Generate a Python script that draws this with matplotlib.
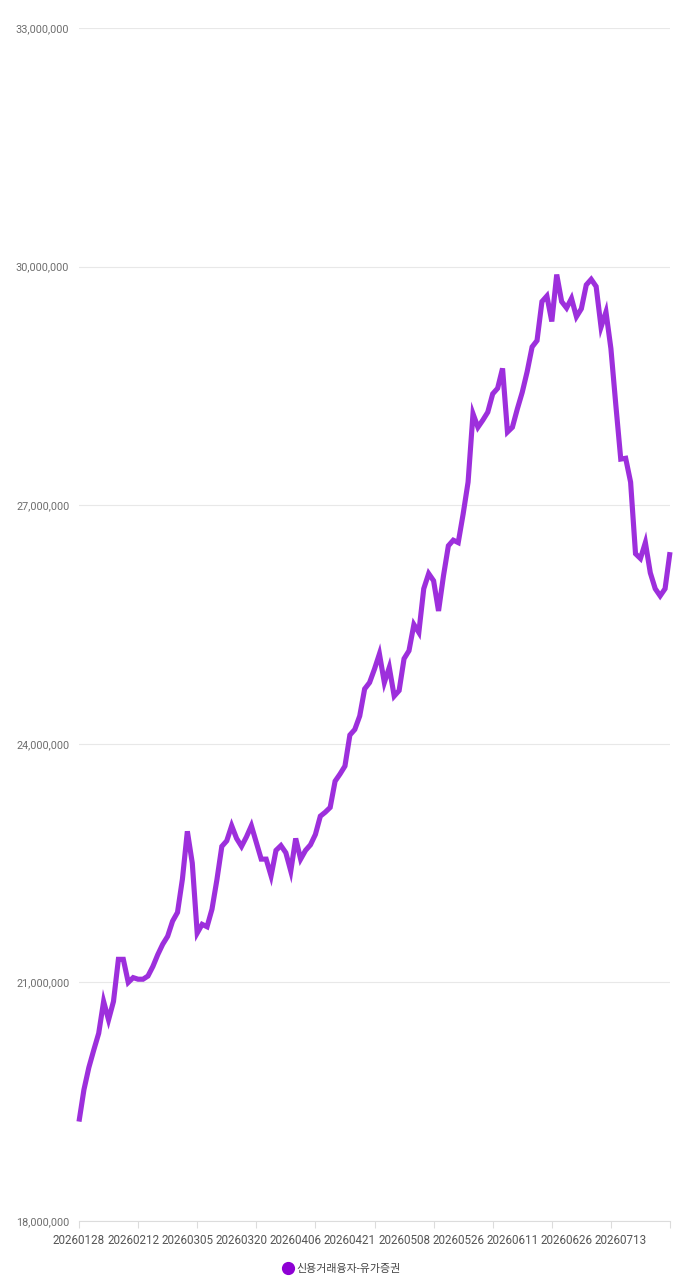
"""
신용거래융자(유가증권) 잔고 추이 라인 차트
"""

import matplotlib
matplotlib.use('Agg')
import matplotlib.pyplot as plt
from matplotlib.lines import Line2D
from matplotlib.ticker import FuncFormatter, FixedLocator

plt.rcParams['font.family'] = ['Roboto', 'Noto Sans CJK KR', 'DejaVu Sans']

# 거래일 (카테고리 축)
dates = [
    '20260128', '20260129', '20260130',
    '20260202', '20260203', '20260204', '20260205', '20260206',
    '20260209', '20260210', '20260211', '20260212', '20260213',
    '20260219', '20260220',
    '20260223', '20260224', '20260225', '20260226', '20260227',
    '20260303', '20260304', '20260305', '20260306',
    '20260309', '20260310', '20260311', '20260312', '20260313',
    '20260316', '20260317', '20260318', '20260319', '20260320',
    '20260323', '20260324', '20260325', '20260326', '20260327',
    '20260330', '20260331', '20260401', '20260402', '20260403',
    '20260406', '20260407', '20260408', '20260409', '20260410',
    '20260413', '20260414', '20260415', '20260416', '20260417',
    '20260420', '20260421', '20260422', '20260423', '20260424',
    '20260427', '20260428', '20260429', '20260430',
    '20260504', '20260506', '20260507', '20260508',
    '20260511', '20260512', '20260513', '20260514', '20260515',
    '20260518', '20260519', '20260520', '20260521', '20260522',
    '20260526', '20260527', '20260528', '20260529',
    '20260601', '20260602', '20260604', '20260605',
    '20260608', '20260609', '20260610', '20260611', '20260612',
    '20260615', '20260616', '20260617', '20260618', '20260619',
    '20260622', '20260623', '20260624', '20260625', '20260626',
    '20260629', '20260630', '20260701', '20260702', '20260703',
    '20260706', '20260707', '20260708', '20260709', '20260710',
    '20260713', '20260714', '20260715', '20260716', '20260717',
    '20260720', '20260721', '20260722', '20260723', '20260724',
    '20260727',
]

# 잔고 (차트 표시 값)
balance = [
    19250000, 19650000, 19930000, 20150000, 20360000, 20760000, 20530000, 20760000,
    21290000, 21290000, 21000000, 21060000, 21040000, 21040000, 21080000, 21200000,
    21350000, 21480000, 21580000, 21770000, 21880000, 22300000, 22900000, 22500000,
    21620000, 21730000, 21700000, 21920000, 22290000, 22710000, 22780000, 22970000,
    22810000, 22710000, 22830000, 22970000, 22760000, 22550000, 22550000, 22340000,
    22660000, 22720000, 22630000, 22400000, 22810000, 22550000, 22660000, 22730000,
    22860000, 23090000, 23140000, 23200000, 23530000, 23620000, 23720000, 24110000,
    24180000, 24350000, 24690000, 24770000, 24940000, 25130000, 24770000, 24960000,
    24600000, 24670000, 25070000, 25170000, 25500000, 25400000, 25950000, 26140000,
    26050000, 25670000, 26110000, 26490000, 26560000, 26530000, 26890000, 27290000,
    28150000, 27980000, 28070000, 28170000, 28400000, 28470000, 28720000, 27920000,
    27980000, 28210000, 28420000, 28680000, 28990000, 29070000, 29560000, 29630000,
    29310000, 29900000, 29560000, 29480000, 29600000, 29370000, 29470000, 29770000,
    29840000, 29750000, 29240000, 29430000, 28970000, 28260000, 27580000, 27590000,
    27290000, 26390000, 26330000, 26530000, 26150000, 25950000, 25860000, 25950000,
    26410000,
]

series_name = '신용거래융자-유가증권'
y_ticks = [18000000, 21000000, 24000000, 27000000, 30000000, 33000000]

LINE_COLOR = '#9d2fdc'
MARK_COLOR = '#8e00d4'
GRID_COLOR = '#e8e8e8'


def main():
    fig = plt.figure(figsize=(6.79, 12.8), dpi=100)
    ax = fig.add_axes([79 / 679, 1 - 1221 / 1280, 591 / 679, (1221 - 28) / 1280])

    x = list(range(len(dates)))
    ax.plot(x, balance, color=LINE_COLOR, linewidth=3.7,
            solid_joinstyle='miter', solid_capstyle='butt', zorder=3, clip_on=False)

    ax.set_xlim(0, len(dates) - 1)
    ax.set_ylim(y_ticks[0], y_ticks[-1])

    # y 축
    ax.set_yticks(y_ticks)
    ax.yaxis.set_major_formatter(FuncFormatter(lambda v, p: f'{int(v):,}'))
    ax.tick_params(axis='y', length=0, pad=7, labelsize=7.8, labelcolor='#6e6e6e')
    ax.grid(axis='y', color=GRID_COLOR, linewidth=0.8, zorder=0)

    # x 축: 눈금은 12칸, 라벨은 11칸 간격
    ax.xaxis.remove_overlapping_locs = False
    ax.xaxis.set_major_locator(FixedLocator(list(range(0, len(dates), 12))))
    ax.xaxis.set_major_formatter(FuncFormatter(lambda v, p: ''))
    ax.tick_params(axis='x', which='major', length=5, width=0.8, color='#dcdcdc')
    label_idx = list(range(0, len(dates) - 1, 11))
    ax.set_xticks(label_idx, minor=True)
    ax.set_xticklabels([dates[i] for i in label_idx], minor=True)
    ax.tick_params(axis='x', which='minor', length=0, pad=9,
                   labelsize=8.4, labelcolor='#555555')

    for side in ['top', 'right', 'left']:
        ax.spines[side].set_visible(False)
    ax.spines['bottom'].set_color('#dcdcdc')
    ax.spines['bottom'].set_linewidth(0.8)

    # 범례
    handle = Line2D([], [], linestyle='none', marker='o', markersize=8.5,
                    markerfacecolor=MARK_COLOR, markeredgecolor=MARK_COLOR)
    fig.legend([handle], [series_name], loc='center',
               bbox_to_anchor=(342 / 679, 1 - 1269 / 1280), frameon=False,
               handlelength=0.8, handletextpad=0.3, fontsize=7.9,
               labelcolor='#444444', borderpad=0)

    fig.savefig('out.png', dpi=100, facecolor='white')
    plt.close(fig)


if __name__ == '__main__':
    main()
